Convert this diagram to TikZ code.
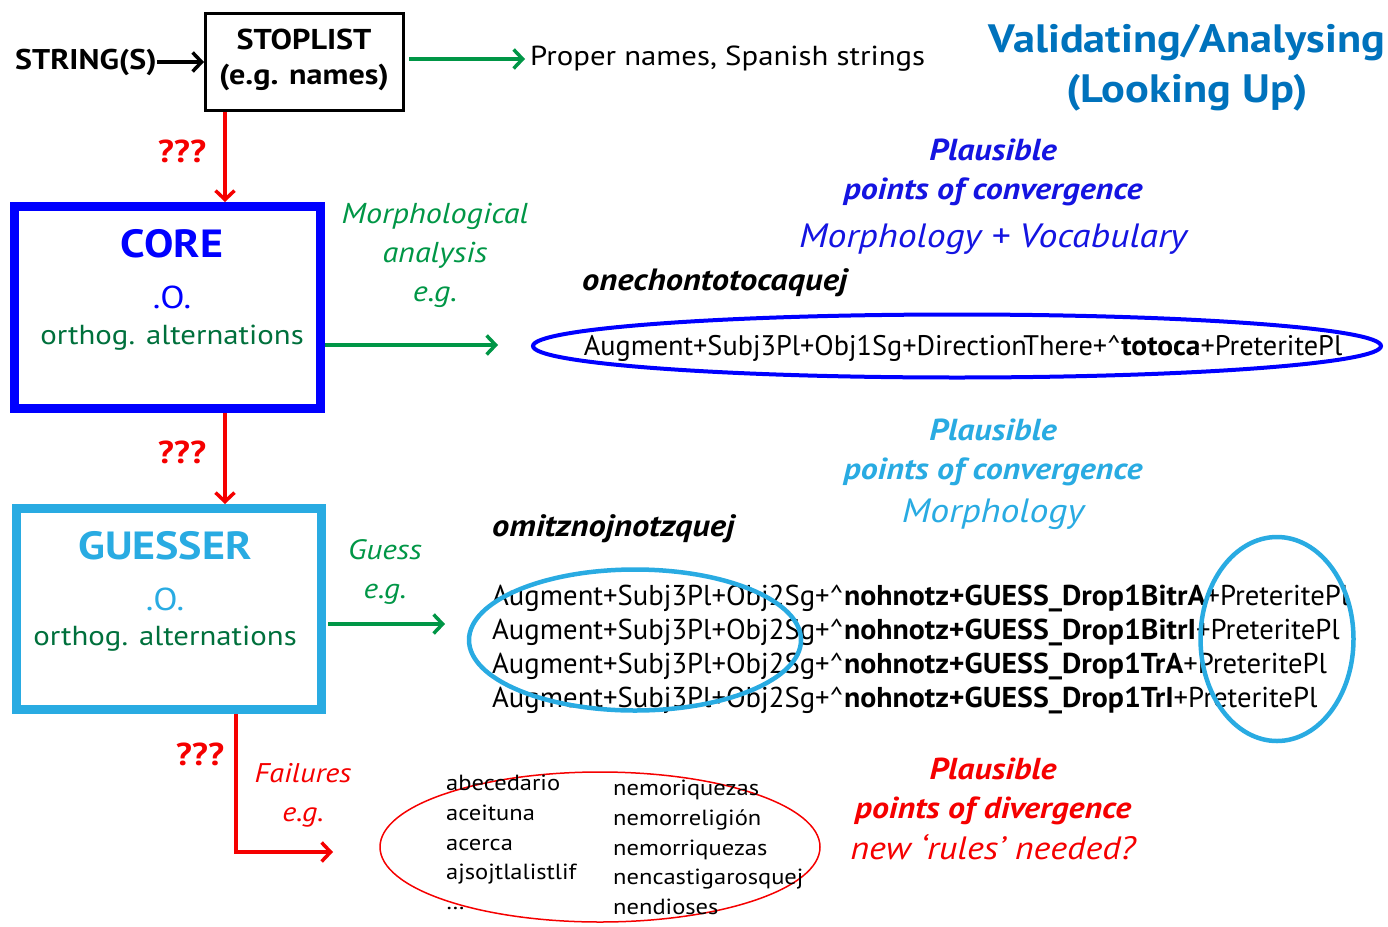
\documentclass[tikz,border=0pt]{standalone}
\usepackage{fontspec}
\setmainfont[FakeStretch=1.12]{PT Sans}
\newfontfamily\plainfont[BoldFeatures={FakeStretch=1.04}]{PT Sans}
\usetikzlibrary{arrows.meta,shapes.geometric}
\definecolor{arrowgreen}{RGB}{0,150,70}
\definecolor{textgreen}{RGB}{0,112,60}
\definecolor{coreblue}{RGB}{0,0,255}
\definecolor{plblue}{RGB}{20,20,225}
\definecolor{lightblue}{RGB}{41,171,226}
\definecolor{titleblue}{RGB}{0,114,188}
\definecolor{myred}{RGB}{245,0,0}
\newcommand{\fs}[2]{\fontsize{#1}{#2}\selectfont}
\tikzset{
  txt/.style={inner sep=0pt, align=center},
  boxstyle/.style={draw, inner sep=0pt},
  barb/.tip={Straight Barb[length=9pt,width=19pt,line width=3.5pt]},
  arr/.style={line width=3.5pt, -barb},
  ring/.style={draw, ellipse, inner sep=0pt},
  analysis/.style={txt, anchor=west, font=\plainfont\fs{28.7}{30}},
}
\begin{document}
\begin{tikzpicture}[x=1pt,y=-1pt]
\useasboundingbox (0,0) rectangle (1388,926);
% input and stoplist
\node[txt, font=\bfseries\fs{28.5}{30}] (str) at (86,62) {STRING(S)};
\node[boxstyle, line width=3pt, minimum width=198pt, minimum height=97pt] (stop) at (304.5,62) {};
\node[txt, font=\bfseries\fs{28.7}{30}] (stopa) at (304,39) {STOPLIST};
\node[txt, font=\bfseries\fs{28.7}{30}] (stopb) at (304,77) {(e.g. names)};
\draw[arr] (str.east) -- (stop.west);
\coordinate (pnend) at (525,59);
\draw[arr, arrowgreen] (stop.east |- 0,59) ++(4,0) -- (pnend);
\node[txt, anchor=west, font=\fs{27.5}{30}] (proper) at (530,59) {Proper names, Spanish strings};
\node[txt, text=titleblue, font=\bfseries\fs{39.6}{50}] (title) at (1187,68) {Validating/Analysing\\(Looking Up)};
% CORE
\node[boxstyle, draw=coreblue, line width=9pt, minimum width=306pt, minimum height=202pt] (core) at (167.5,307.5) {};
\node[txt, text=coreblue, font=\bfseries\fs{39.3}{40}] (corea) at (172,244) {CORE};
\node[txt, text=coreblue, font=\fs{31.7}{30}] (coreb) at (172,297) {.O.};
\node[txt, text=textgreen, font=\fs{27.5}{30}] (corec) at (172,338) {orthog. alternations};
\draw[arr, myred] (stop.south -| 225,0) -- (core.north -| 225,0);
\node[txt, text=myred, font=\bfseries\fs{31.6}{30}] (q1) at (182,151) {???};
\node[txt, text=arrowgreen, font=\itshape\fs{28.75}{39}] (morph) at (435,255) {Morphological\\analysis\\e.g.};
\coordinate (coreend) at (498,345);
\draw[arr, arrowgreen] (core.east |- 0,345) -- (coreend);
\node[ring, draw=coreblue, line width=4pt, minimum width=848pt, minimum height=63pt] (ell1) at (957,346) {};
\node[txt, font=\plainfont\fs{28.3}{30}] (an1) at (963,348) {Augment+Subj3Pl+Obj1Sg+DirectionThere+\^{}\textbf{totoca}+PreteritePl};
\node[txt, anchor=west, font=\bfseries\itshape\fs{30.8}{30}] (w1) at (582,283) {onechontotocaquej};
\node[txt, text=plblue, font=\bfseries\itshape\fs{30.4}{39}] (pc1) at (993,172) {Plausible\\points of convergence};
\node[txt, text=plblue, font=\itshape\fs{33.7}{36}] (mv) at (993,239) {Morphology + Vocabulary};
% GUESSER
\node[boxstyle, draw=lightblue, line width=9pt, minimum width=305pt, minimum height=201pt] (gue) at (169,609) {};
\node[txt, text=lightblue, font=\bfseries\fs{39.3}{40}] (guea) at (165,546) {GUESSER};
\node[txt, text=lightblue, font=\fs{31.7}{30}] (gueb) at (165,599) {.O.};
\node[txt, text=textgreen, font=\fs{27.5}{30}] (guec) at (165,639) {orthog. alternations};
\draw[arr, myred] (core.south -| 225,0) -- (gue.north -| 225,0);
\node[txt, text=myred, font=\bfseries\fs{31.6}{30}] (q2) at (182,452) {???};
\node[txt, text=arrowgreen, font=\itshape\fs{28}{39}] (guess) at (385,572) {Guess\\e.g.};
\coordinate (gueend) at (445,624);
\draw[arr, arrowgreen] (gue.east |- 0,624) ++(2,0) -- (gueend);
\node[txt, text=lightblue, font=\bfseries\itshape\fs{30.4}{39}] (pc2) at (993,452) {Plausible\\points of convergence};
\node[txt, text=lightblue, font=\itshape\fs{33.7}{36}] (mo) at (993,514) {Morphology};
\node[txt, anchor=west, font=\bfseries\itshape\fs{30.8}{30}] (w2) at (492,529) {omitznojnotzquej};
\node[analysis] (g1) at (492,598) {Augment+Subj3Pl+Obj2Sg+\^{}\textbf{nohnotz+GUESS\_Drop1BitrA}+PreteritePl};
\node[analysis] (g2) at (492,632) {Augment+Subj3Pl+Obj2Sg+\^{}\textbf{nohnotz+GUESS\_Drop1BitrI}+PreteritePl};
\node[analysis] (g3) at (492,666) {Augment+Subj3Pl+Obj2Sg+\^{}\textbf{nohnotz+GUESS\_Drop1TrA}+PreteritePl};
\node[analysis] (g4) at (492,700) {Augment+Subj3Pl+Obj2Sg+\^{}\textbf{nohnotz+GUESS\_Drop1TrI}+PreteritePl};
\node[ring, draw=lightblue, line width=4.5pt, minimum width=332pt, minimum height=141pt] (ell2) at (635,640) {};
\node[ring, draw=lightblue, line width=4.5pt, minimum width=153pt, minimum height=204pt] (ell3) at (1277,639) {};
% failures
\coordinate (fcorner) at (236,852);
\coordinate (fend) at (333,852);
\draw[line width=3.5pt, myred, -barb] (gue.south -| 236,0) -- (fcorner) -- (fend);
\node[txt, text=myred, font=\bfseries\fs{31.6}{30}] (q3) at (200,754) {???};
\node[txt, text=myred, font=\itshape\fs{27}{39}] (fail) at (303,795) {Failures\\e.g.};
\node[ring, draw=myred, line width=1.5pt, minimum width=440pt, minimum height=150pt] (ell4) at (600,847) {};
\node[txt, anchor=north west, align=left, font=\fs{21.9}{29.7}] (colA) at (446,775) {abecedario\\aceituna\\acerca\\ajsojtlalistlif\\\dots};
\node[txt, anchor=north west, align=left, font=\fs{21.9}{29.7}] (colB) at (613,780) {nemoriquezas\\nemorreligión\\nemorriquezas\\nencastigarosquej\\nendioses};
\node[txt, text=myred, font=\bfseries\itshape\fs{30.3}{39}] (pd) at (993,791) {Plausible\\points of divergence};
\node[txt, text=myred, font=\itshape\fs{32.3}{34}] (rules) at (993,847) {new ‘rules’ needed?};
\end{tikzpicture}
\end{document}
